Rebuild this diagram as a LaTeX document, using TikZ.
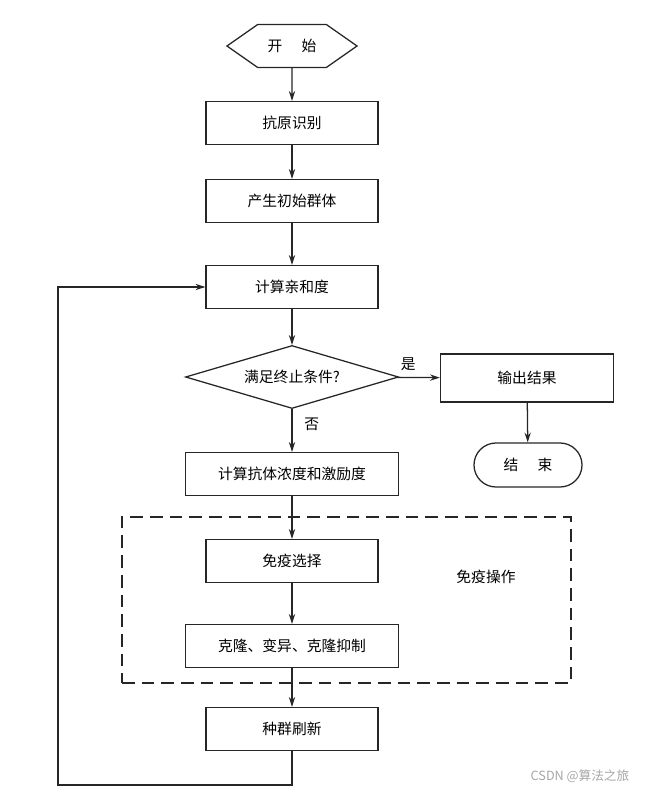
\documentclass[tikz,border=0pt]{standalone}
\usepackage{fontspec}
\setmainfont{Noto Sans CJK SC}
\usetikzlibrary{shapes.geometric,shapes.symbols,arrows.meta}

\begin{document}
\begin{tikzpicture}[x=0.025cm, y=-0.025cm, line width=0.9pt, >={Stealth[length=7pt,width=4.5pt]},
  txt/.style={font=\fontsize{10.5pt}{12pt}\selectfont, text=black},
  box/.style={txt, draw=black!85, rectangle, minimum width=4.3cm, minimum height=1.075cm, inner sep=0pt},
  widebox/.style={box, minimum width=5.325cm},
  term/.style={txt, draw=black!85, signal, signal to=west and east, signal from=nowhere, signal pointer angle=70, minimum width=3.25cm, minimum height=1.075cm, inner sep=0pt},
  stop/.style={txt, draw=black!85, rectangle, rounded corners=0.55cm, minimum width=2.7cm, minimum height=1.1cm, inner sep=0pt},
  test/.style={txt, draw=black!85, diamond, aspect=3.4, minimum width=5.325cm, minimum height=1.575cm, inner sep=0pt},
  line/.style={draw=black!85, ->}]
\useasboundingbox (0,0) rectangle (664,793);

\node[term] (1) at (292,46) {开\hspace{1.3em}始};
\node[box] (2) at (292,123) {抗原识别};
\node[box] (3) at (292,201) {产生初始群体};
\node[box] (4) at (292,287) {计算亲和度};
\node[test] (5) at (292,377) {满足终止条件?};
\node[box, minimum width=4.325cm, minimum height=1.2cm] (6) at (527,378) {输出结果};
\node[stop] (7) at (528,465) {结\hspace{1.3em}束};
\node[widebox] (8) at (292,474) {计算抗体浓度和激励度};
\node[draw=black!85, dash pattern=on 9pt off 5pt, minimum width=11.225cm, minimum height=4.15cm, inner sep=0pt] (9) at (346.5,600) {};
\node[txt] (10) at (486,577) {免疫操作};
\node[box] (11) at (292,561) {免疫选择};
\node[widebox] (12) at (292,646) {克隆、变异、克隆抑制};
\node[box] (13) at (292,729) {种群刷新};
\coordinate (c) at (58,785);

\draw[line] (1) -- (2);
\draw[line] (2) -- (3);
\draw[line] (3) -- (4);
\draw[line] (4) -- (5);
\draw[line] (5) -- node[txt, above, pos=0.25, yshift=1pt] {是} (6);
\draw[line] (6) -- (7);
\draw[line] (5) -- node[txt, right, pos=0.3, xshift=5pt, yshift=-2pt] {否} (8);
\draw[line] (8) -- (11);
\draw[line] (11) -- (12);
\draw[line] (12) -- (13);
\draw[line] (13.south) |- (c) |- (4.west);

\node[font=\fontsize{9pt}{10pt}\selectfont, text=black!35] (14) at (580,776) {CSDN @算法之旅};
\end{tikzpicture}
\end{document}
